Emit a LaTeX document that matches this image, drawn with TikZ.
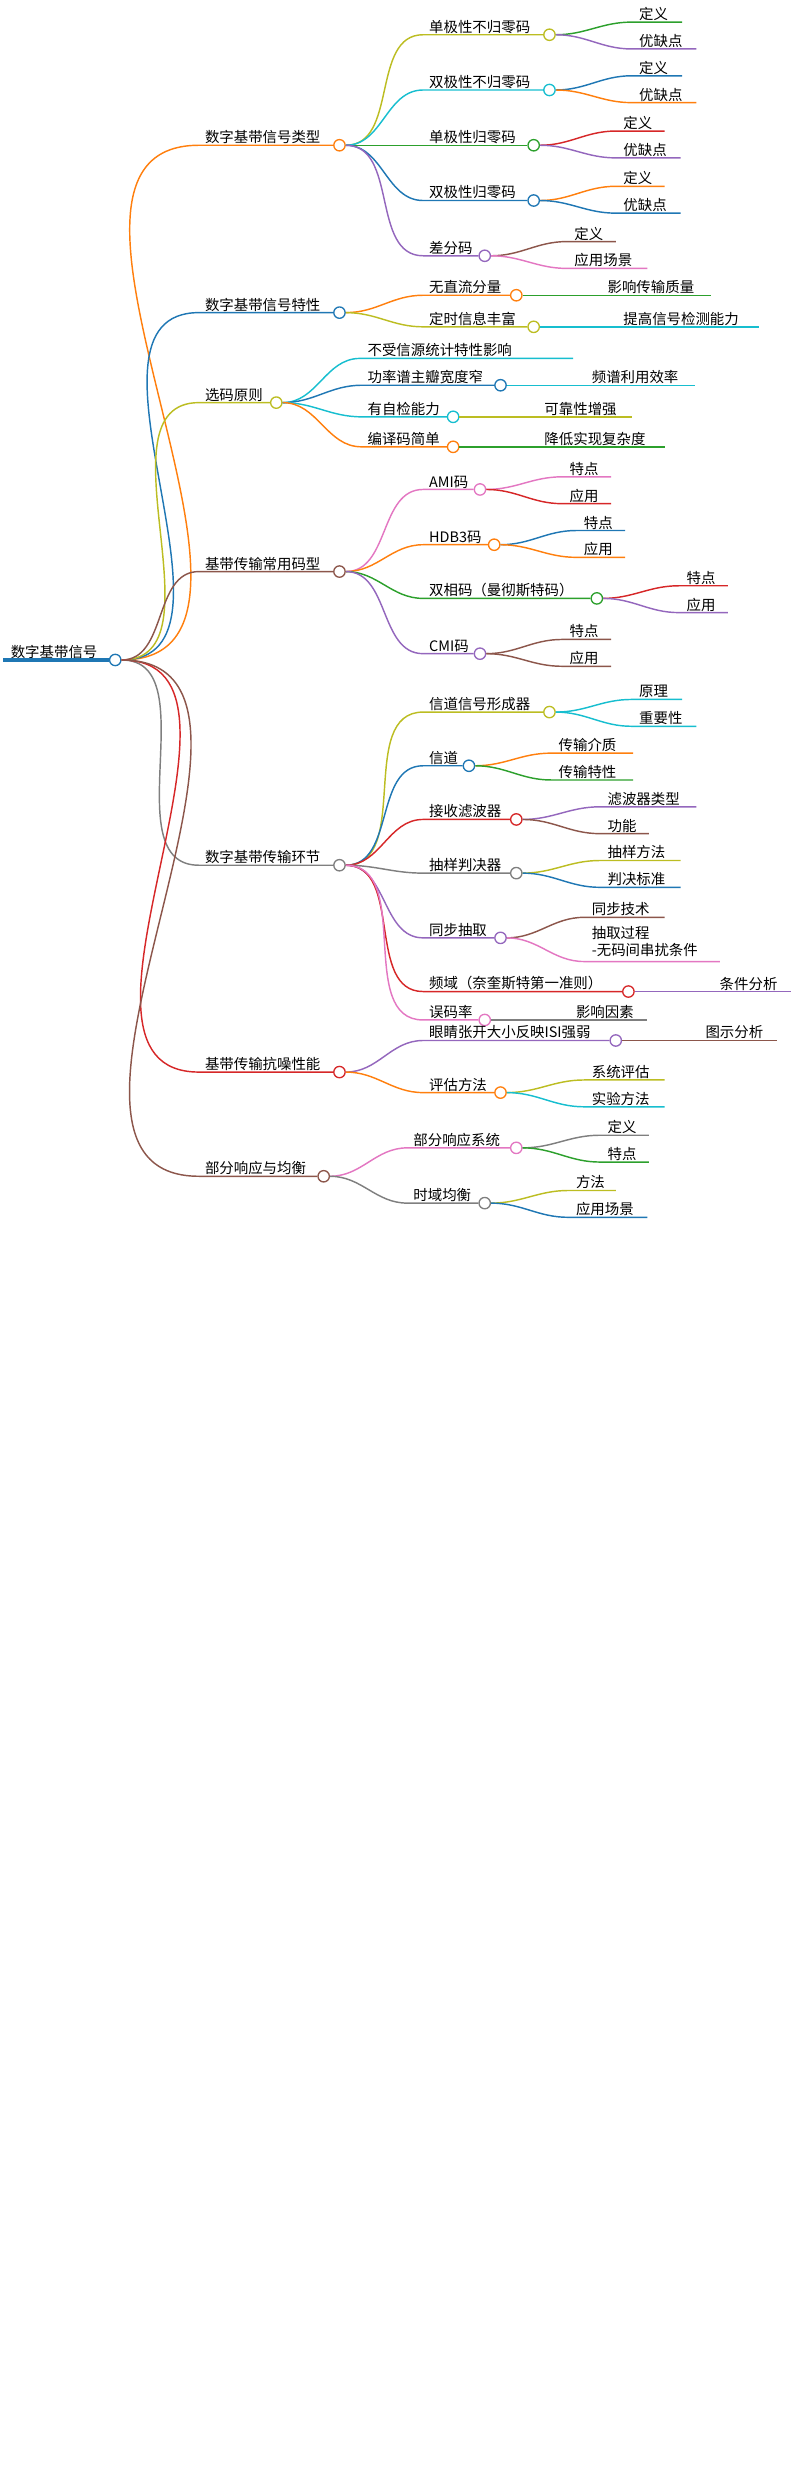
\documentclass[tikz,border=0pt]{standalone}
\usepackage{fontspec}
\setmainfont{Noto Sans CJK SC}
\usetikzlibrary{positioning,calc}
\definecolor{tblue}{HTML}{1F77B4}
\definecolor{torange}{HTML}{FF7F0E}
\definecolor{tgreen}{HTML}{2CA02C}
\definecolor{tred}{HTML}{D62728}
\definecolor{tpurple}{HTML}{9467BD}
\definecolor{tbrown}{HTML}{8C564B}
\definecolor{tpink}{HTML}{E377C2}
\definecolor{tgray}{HTML}{7F7F7F}
\definecolor{tolive}{HTML}{BCBD22}
\definecolor{tcyan}{HTML}{17BECF}
\tikzset{
  hub/.style={circle, line width=1.2pt, fill=white, minimum size=0.36cm, inner sep=0pt},
  lab/.style={anchor=south west, inner sep=1pt, font=\fontsize{13}{15}\selectfont},
  edge/.style={draw=#1, line width=1.3pt}
}
% hub: name, colour, x, y, text x, text
\newcommand{\hub}[6]{\node[hub,draw=#2] (#1) at (#3,#4) {};
  \node[lab] (#1-t) at (#5,#4) {#6};}
% link from parent hub to child hub
\newcommand{\link}[3]{\draw[edge=#3] (#1.east) to[out=0,in=180] ($(#2-t.south west)+(-3,0)$) -- (#2.west);}
% leaf: name, parent, colour, text x, y, end x, text
\newcommand{\leaf}[7]{\coordinate (#1) at (#6,#5);
  \node[lab] (#1-t) at (#4,#5) {#7};
  \draw[edge=#3] (#2.east) to[out=0,in=180] (#4-4,#5) -- (#1);}

\begin{document}
\begin{tikzpicture}[x=0.05cm, y=-0.05cm]
    \useasboundingbox (0,0) rectangle (506,1572);

    % root
    \coordinate (r0) at (2,418);
    \node[hub,draw=tblue] (root) at (73,418) {};
    \node[lab] at (6,418) {数字基带信号};
    \draw[tblue, line width=3.5pt] (r0) -- (root.west);

    % level 1
    \hub{typ}{torange}{215}{92}{129}{数字基带信号类型}
    \hub{chr}{tblue}{215}{198}{129}{数字基带信号特性}
    \hub{sel}{tolive}{175}{255}{129}{选码原则}
    \hub{cod}{tbrown}{215}{362}{129}{基带传输常用码型}
    \hub{lnk}{tgray}{215}{548}{129}{数字基带传输环节}
    \hub{noi}{tred}{215}{679}{129}{基带传输抗噪性能}
    \hub{par}{tbrown}{205}{745}{129}{部分响应与均衡}
    \link{root}{typ}{torange}
    \link{root}{chr}{tblue}
    \link{root}{sel}{tolive}
    \link{root}{cod}{tbrown}
    \link{root}{lnk}{tgray}
    \link{root}{noi}{tred}
    \link{root}{par}{tbrown}

    % signal types
    \hub{unrz}{tolive}{348}{22}{271}{单极性不归零码}
    \hub{bnrz}{tcyan}{348}{57}{271}{双极性不归零码}
    \hub{urz}{tgreen}{338}{92}{271}{单极性归零码}
    \hub{brz}{tblue}{338}{127}{271}{双极性归零码}
    \hub{dif}{tpurple}{307}{162}{271}{差分码}
    \link{typ}{unrz}{tolive}
    \link{typ}{bnrz}{tcyan}
    \link{typ}{urz}{tgreen}
    \link{typ}{brz}{tblue}
    \link{typ}{dif}{tpurple}
    \leaf{unrz1}{unrz}{tgreen}{404}{14}{432}{定义}
    \leaf{unrz2}{unrz}{tpurple}{404}{31}{441}{优缺点}
    \leaf{bnrz1}{bnrz}{tblue}{404}{48}{432}{定义}
    \leaf{bnrz2}{bnrz}{torange}{404}{65}{441}{优缺点}
    \leaf{urz1}{urz}{tred}{394}{83}{421}{定义}
    \leaf{urz2}{urz}{tpurple}{394}{100}{431}{优缺点}
    \leaf{brz1}{brz}{torange}{394}{118}{421}{定义}
    \leaf{brz2}{brz}{tblue}{394}{135}{431}{优缺点}
    \leaf{dif1}{dif}{tbrown}{363}{153}{390}{定义}
    \leaf{dif2}{dif}{tpink}{363}{170}{410}{应用场景}

    % characteristics
    \hub{nodc}{torange}{327}{187}{271}{无直流分量}
    \hub{tim}{tolive}{338}{207}{271}{定时信息丰富}
    \link{chr}{nodc}{torange}
    \link{chr}{tim}{tolive}
    \leaf{nodc1}{nodc}{tgreen}{384}{187}{450}{影响传输质量}
    \leaf{tim1}{tim}{tcyan}{394}{207}{481}{提高信号检测能力}

    % selection rules
    \leaf{stat}{sel}{tcyan}{232}{227}{363}{不受信源统计特性影响}
    \hub{psd}{tblue}{317}{244}{232}{功率谱主瓣宽度窄}
    \hub{chk}{tcyan}{287}{264}{232}{有自检能力}
    \hub{enc}{torange}{287}{283}{232}{编译码简单}
    \link{sel}{psd}{tblue}
    \link{sel}{chk}{tcyan}
    \link{sel}{enc}{torange}
    \leaf{psd1}{psd}{tcyan}{374}{244}{440}{频谱利用效率}
    \leaf{chk1}{chk}{tolive}{344}{264}{400}{可靠性增强}
    \leaf{enc1}{enc}{tgreen}{344}{283}{421}{降低实现复杂度}

    % common codes
    \hub{ami}{tpink}{304}{310}{271}{AMI码}
    \hub{hdb}{torange}{313}{345}{271}{HDB3码}
    \hub{man}{tgreen}{378}{379}{271}{双相码（曼彻斯特码）}
    \hub{cmi}{tpurple}{304}{414}{271}{CMI码}
    \link{cod}{ami}{tpink}
    \link{cod}{hdb}{torange}
    \link{cod}{man}{tgreen}
    \link{cod}{cmi}{tpurple}
    \leaf{ami1}{ami}{tpink}{360}{302}{387}{特点}
    \leaf{ami2}{ami}{tred}{360}{319}{387}{应用}
    \leaf{hdb1}{hdb}{tblue}{369}{336}{396}{特点}
    \leaf{hdb2}{hdb}{torange}{369}{353}{396}{应用}
    \leaf{man1}{man}{tred}{434}{371}{461}{特点}
    \leaf{man2}{man}{tpurple}{434}{388}{461}{应用}
    \leaf{cmi1}{cmi}{tbrown}{360}{405}{387}{特点}
    \leaf{cmi2}{cmi}{tbrown}{360}{422}{387}{应用}

    % transmission chain
    \hub{frm}{tolive}{348}{451}{271}{信道信号形成器}
    \hub{chn}{tblue}{297}{485}{271}{信道}
    \hub{rcv}{tred}{327}{519}{271}{接收滤波器}
    \hub{smp}{tgray}{327}{553}{271}{抽样判决器}
    \hub{syn}{tpurple}{317}{594}{271}{同步抽取}
    \hub{nyq}{tred}{398}{628}{271}{频域（奈奎斯特第一准则）}
    \hub{ber}{tpink}{307}{646}{271}{误码率}
    \link{lnk}{frm}{tolive}
    \link{lnk}{chn}{tblue}
    \link{lnk}{rcv}{tred}
    \link{lnk}{smp}{tgray}
    \link{lnk}{syn}{tpurple}
    \link{lnk}{nyq}{tred}
    \link{lnk}{ber}{tpink}
    \leaf{frm1}{frm}{tcyan}{404}{443}{432}{原理}
    \leaf{frm2}{frm}{tcyan}{404}{460}{441}{重要性}
    \leaf{chn1}{chn}{torange}{353}{477}{401}{传输介质}
    \leaf{chn2}{chn}{tgreen}{353}{494}{401}{传输特性}
    \leaf{rcv1}{rcv}{tpurple}{384}{511}{441}{滤波器类型}
    \leaf{rcv2}{rcv}{tbrown}{384}{528}{411}{功能}
    \leaf{smp1}{smp}{tolive}{384}{545}{431}{抽样方法}
    \leaf{smp2}{smp}{tblue}{384}{562}{431}{判决标准}
    \leaf{syn1}{syn}{tbrown}{374}{581}{421}{同步技术}
    \leaf{syn2}{syn}{tpink}{374}{609}{456}{\begin{tabular}{@{}l@{}}抽取过程\\-无码间串扰条件\end{tabular}}
    \leaf{nyq1}{nyq}{tpurple}{455}{628}{501}{条件分析}
    \leaf{ber1}{ber}{tgray}{364}{646}{410}{影响因素}

    % noise performance
    \hub{eye}{tpurple}{390}{659}{271}{眼睛张开大小反映ISI强弱}
    \hub{evl}{torange}{317}{692}{271}{评估方法}
    \link{noi}{eye}{tpurple}
    \link{noi}{evl}{torange}
    \leaf{eye1}{eye}{tbrown}{446}{659}{492}{图示分析}
    \leaf{evl1}{evl}{tolive}{374}{684}{421}{系统评估}
    \leaf{evl2}{evl}{tcyan}{374}{701}{421}{实验方法}

    % partial response and equalisation
    \hub{prs}{tpink}{327}{727}{261}{部分响应系统}
    \hub{teq}{tgray}{307}{762}{261}{时域均衡}
    \link{par}{prs}{tpink}
    \link{par}{teq}{tgray}
    \leaf{prs1}{prs}{tgray}{384}{719}{411}{定义}
    \leaf{prs2}{prs}{tgreen}{384}{736}{411}{特点}
    \leaf{teq1}{teq}{tolive}{364}{754}{390}{方法}
    \leaf{teq2}{teq}{tblue}{364}{771}{410}{应用场景}
\end{tikzpicture}
\end{document}
